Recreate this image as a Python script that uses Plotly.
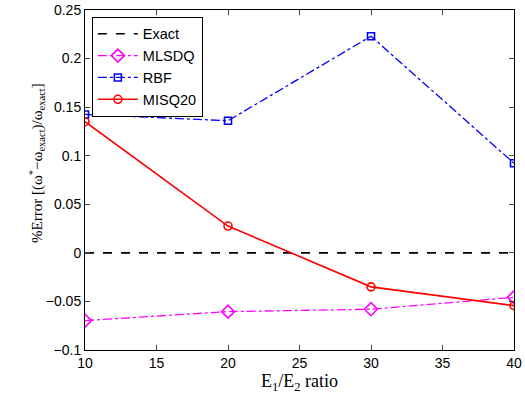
import plotly.graph_objects as go

ratio = [10, 20, 30, 40]
exact = [0, 0, 0, 0]
mlsdq = [-0.0697, -0.0605, -0.058, -0.0457]
rbf = [0.1425, 0.136, 0.223, 0.0922]
misq20 = [0.135, 0.0276, -0.035, -0.0543]

y_ticks = [-0.1, -0.05, 0, 0.05, 0.1, 0.15, 0.2, 0.25]
y_labels = ["−0.1", "−0.05", "0", "0.05", "0.1", "0.15", "0.2", "0.25"]
x_ticks = [10, 15, 20, 25, 30, 35, 40]

fig = go.Figure()
fig.add_trace(go.Scatter(x=ratio, y=exact, name="Exact", mode="lines",
                         line=dict(color="black", dash="dash", width=1.6)))
fig.add_trace(go.Scatter(x=ratio, y=mlsdq, name="MLSDQ", mode="lines+markers",
                         line=dict(color="#ff00ff", dash="dashdot", width=1.3),
                         marker=dict(symbol="diamond-open", size=10, color="#ff00ff", line=dict(width=1.6))))
fig.add_trace(go.Scatter(x=ratio, y=rbf, name="RBF", mode="lines+markers",
                         line=dict(color="#0000ff", dash="dashdot", width=1.3),
                         marker=dict(symbol="square-open", size=7, color="#0000ff", line=dict(width=1.6))))
fig.add_trace(go.Scatter(x=ratio, y=misq20, name="MISQ20", mode="lines+markers",
                         line=dict(color="#ff0000", width=1.6),
                         marker=dict(symbol="circle-open", size=8, color="#ff0000", line=dict(width=1.6))))

fig.update_layout(
    width=525, height=404,
    margin=dict(l=85, r=11, t=10, b=54),
    paper_bgcolor="white", plot_bgcolor="white",
    font=dict(family="Liberation Sans, Arial", size=14, color="black"),
    showlegend=True,
    legend=dict(x=0.016, y=0.98, xanchor="left", yanchor="top",
                bordercolor="black", borderwidth=1, bgcolor="white",
                font=dict(size=14.5), tracegroupgap=0, itemwidth=40),
    xaxis=dict(range=[10, 40], tickvals=x_ticks, ticks="inside", ticklen=5,
               showline=True, linecolor="black", linewidth=1, mirror="ticks",
               showgrid=False, zeroline=False, automargin=False,
               title=dict(text="E<sub>1</sub>/E<sub>2</sub> ratio",
                          font=dict(family="Liberation Serif, Times New Roman", size=18), standoff=3)),
    yaxis=dict(range=[-0.1, 0.25], tickvals=y_ticks, ticktext=y_labels, ticks="inside", ticklen=5,
               showline=True, linecolor="black", linewidth=1, mirror="ticks",
               showgrid=False, zeroline=False, automargin=False),
    annotations=[dict(text="%Error [(ω<sup>*</sup>−ω<sub>exact</sub>)/ω<sub>exact</sub>]",
                      xref="paper", yref="paper", x=-0.112, y=0.55,
                      xanchor="center", yanchor="middle", textangle=-90, showarrow=False,
                      font=dict(family="Liberation Serif, Times New Roman", size=15))],
)

fig.write_html("out.html", post_script="document.body.style.margin='0';",
               config={"displayModeBar": False})
